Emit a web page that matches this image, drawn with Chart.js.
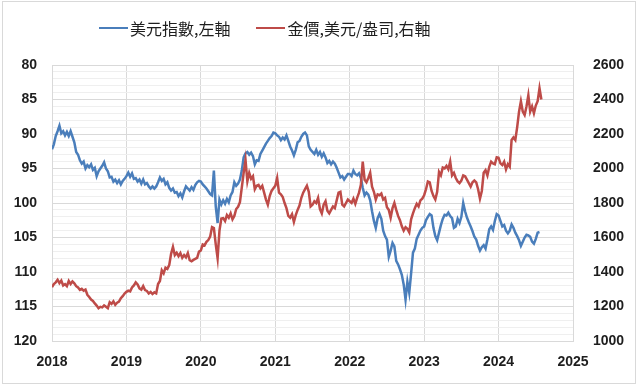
<!DOCTYPE html>
<html>
<head>
<meta charset="utf-8">
<script src="https://cdn.jsdelivr.net/npm/chart.js@4.4.1/dist/chart.umd.min.js"></script>
<style>
  html, body { margin: 0; padding: 0; background: #fff; }
  #wrap { position: relative; width: 640px; height: 386px; overflow: hidden; }
  #myChart { display: block; }
  #frame { position: absolute; left: 2px; top: 1px; width: 632px; height: 381px; border: 1px solid #d9d9d9; pointer-events: none; }
  #legend { position: absolute; left: 99px; top: 18px; height: 20px; display: flex; align-items: center;
            font-family: "Noto Sans CJK TC", sans-serif; font-size: 16px; color: #1e1e1e; white-space: nowrap; }
  .item { display: flex; align-items: center; margin-right: 26px; }
  .swatch { width: 29px; height: 2px; margin-right: 2px; }
</style>
</head>
<body>
<div id="wrap">
  <canvas id="myChart" width="640" height="386"></canvas>
  <div id="legend"></div>
  <div id="frame"></div>
</div>
<script>
// ~40 samples a year (every 9 days or so)
const samplesPerYear = 40
const firstYear = 2018
const yearTicks = [2018, 2019, 2020, 2021, 2022, 2023, 2024, 2025]

const dxyLabel = '美元指數,左軸'
const goldLabel = '金價,美元/盎司,右軸'

// US dollar index (left axis, reversed)
const dxy2018 = [92.2,91.5,90.3,89.6,88.8,89.9,89.6,90.2,89.7,90.3, 89.6,90.4,91.2,92.6,93.0,93.8,94.3,94.0,95.0,94.5,
                 94.8,94.4,95.2,94.9,96.1,95.4,95.0,94.6,94.1,95.0, 95.4,96.3,96.2,96.9,96.6,97.1,96.7,97.3,96.8,96.5]
const dxy2019 = [96.1,95.6,96.2,95.7,96.5,96.4,96.9,96.6,97.2,96.6, 97.3,97.1,97.6,97.9,97.6,97.9,97.6,97.0,96.3,96.8,
                 96.5,97.3,97.0,97.8,98.2,97.9,98.5,98.4,99.0,98.6, 99.2,98.3,97.6,97.9,98.2,97.7,98.1,97.4,97.0,96.8]
const dxy2020 = [96.9,97.3,97.6,97.9,98.3,98.7,98.9,95.3,100.5,102.9, 99.5,100.2,99.6,100.1,99.4,99.9,98.9,98.4,97.0,97.5,
                 97.2,96.6,95.3,93.4,92.8,92.6,93.0,92.7,93.2,94.4, 93.8,93.9,92.9,92.4,91.9,91.4,91.0,90.6,90.3,89.8]
const dxy2021 = [89.9,90.2,90.4,90.9,90.5,90.8,90.2,91.0,91.8,92.4, 93.1,92.3,91.2,91.0,90.4,90.0,89.8,90.2,91.8,92.3,
                 92.6,92.9,92.3,93.0,92.6,93.3,92.8,93.4,94.2,93.9, 94.4,94.0,94.3,94.9,95.6,96.3,96.1,96.6,96.2,95.8]
const dxy2022 = [95.8,96.1,95.3,95.8,96.0,95.7,96.4,97.8,98.9,98.5, 98.8,99.6,101.2,102.6,103.6,102.2,101.6,102.3,104.0,104.8,
                 105.3,107.8,106.9,105.8,106.3,108.4,108.9,109.6,110.4,111.8, 114.0,111.4,113.0,110.2,107.2,106.6,105.2,104.6,104.0,103.6]
const dxy2023 = [103.4,102.5,102.0,101.6,101.8,103.6,104.8,105.4,104.3,103.2, 102.3,101.7,101.8,101.4,101.9,102.2,103.6,103.4,102.3,102.9,
                 102.0,100.0,101.2,102.1,102.8,103.4,104.1,104.9,105.3,106.2, 106.9,106.4,106.1,106.6,105.3,103.8,103.4,103.9,102.6,101.6]
const dxy2024 = [101.8,102.6,103.4,103.2,104.0,104.4,104.0,103.1,103.6,104.3, 104.8,105.4,106.2,105.6,105.0,104.6,104.7,104.9,105.6,105.9,
                 105.2,104.3,104.2]

// gold, USD per ounce (right axis)
const gold2018 = [1312,1330,1340,1355,1335,1350,1322,1330,1318,1348, 1330,1345,1335,1318,1310,1296,1302,1292,1298,1268,
                  1255,1240,1232,1218,1205,1190,1198,1195,1206,1198, 1190,1225,1215,1230,1210,1222,1228,1248,1260,1275]
const gold2019 = [1285,1292,1288,1310,1322,1340,1328,1305,1298,1318, 1295,1290,1276,1284,1272,1282,1276,1330,1348,1410,
                  1392,1425,1418,1440,1505,1545,1498,1512,1492,1510, 1482,1498,1485,1510,1468,1462,1470,1476,1482,1518]
const gold2020 = [1525,1560,1555,1575,1585,1605,1660,1655,1560,1480, 1640,1710,1712,1695,1730,1715,1740,1705,1725,1765,
                  1778,1805,1890,1975,2050,1925,1975,1940,1955,1880, 1900,1905,1885,1900,1860,1820,1790,1840,1870,1885]
const gold2021 = [1900,1945,1860,1850,1835,1800,1770,1725,1715,1735, 1690,1730,1760,1785,1830,1860,1880,1900,1865,1780,
                  1790,1810,1800,1830,1765,1740,1790,1810,1755,1740, 1760,1780,1770,1815,1860,1865,1790,1780,1800,1820]
const gold2022 = [1810,1800,1825,1795,1830,1860,1905,2040,1935,1920, 1945,1975,1895,1865,1820,1850,1845,1855,1820,1830,
                  1775,1760,1715,1770,1800,1760,1725,1700,1665,1640, 1660,1650,1630,1705,1740,1770,1795,1780,1815,1825]
const gold2023 = [1845,1880,1925,1920,1870,1840,1820,1865,1980,1960, 2005,2000,2015,1995,2040,1960,1975,1945,1925,1915,
                  1930,1960,1955,1935,1915,1895,1920,1930,1920,1880, 1825,1870,1975,1990,1960,2010,2040,2030,2025,2065]
const gold2024 = [2062,2030,2020,2040,1995,2025,2010,2165,2180,2165, 2240,2330,2390,2330,2310,2360,2425,2330,2360,2320,
                  2365,2390,2465,2400]

const dxyByYear = [dxy2018, dxy2019, dxy2020, dxy2021, dxy2022, dxy2023, dxy2024]
const goldByYear = [gold2018, gold2019, gold2020, gold2021, gold2022, gold2023, gold2024]

const blue = '#4a7ebb'
const red = '#be4b48'
const gridColor = '#d9d9d9'
const minorGrid = '#efefef'
const tickFont = { family: 'Liberation Sans', size: 14, weight: 'bold' }
const tickColor = '#1e1e1e'

function toPoints(byYear) {
    const pts = []
    byYear.forEach((vals, k) => {
        vals.forEach((v, i) => pts.push({ x: firstYear + k + i / samplesPerYear, y: v }))
    })
    return pts
}

const ctx = document.getElementById('myChart')
const myChart = new Chart(ctx, {
    type: 'line',
    data: {
        datasets: [
            { label: dxyLabel, data: toPoints(dxyByYear), yAxisID: 'yL', borderColor: blue, backgroundColor: blue,
              borderWidth: 2.5, pointRadius: 0, order: 1 },
            { label: goldLabel, data: toPoints(goldByYear), yAxisID: 'yR', borderColor: red, backgroundColor: red,
              borderWidth: 2.5, pointRadius: 0, order: 0 }
        ]
    },
    options: {
        responsive: false,
        animation: false,
        devicePixelRatio: 1,
        events: [],
        layout: { padding: { top: 65, left: 0, right: 0, bottom: 0 } },
        plugins: { legend: { display: false }, tooltip: { enabled: false } },
        scales: {
            x: {
                type: 'linear', min: 2018, max: 2025,
                afterBuildTicks: s => { s.ticks = yearTicks.map(v => ({ value: v })) },
                afterFit: s => { s.height = 45 },
                ticks: { callback: v => String(v), padding: 13, font: tickFont, color: tickColor, maxRotation: 0 },
                grid: { color: gridColor, drawTicks: false },
                border: { color: gridColor }
            },
            yL: {
                position: 'left', reverse: true, min: 80, max: 120,
                afterFit: s => { s.width = 52 },
                ticks: { stepSize: 1, autoSkip: false, callback: v => (v % 5 === 0 ? String(v) : ''),
                         padding: 15, font: tickFont, color: tickColor },
                grid: { color: c => (c.tick && c.tick.value % 5 === 0 ? gridColor : minorGrid), drawTicks: false },
                border: { color: gridColor }
            },
            yR: {
                position: 'right', min: 1000, max: 2600,
                afterFit: s => { s.width = 67 },
                ticks: { stepSize: 200, callback: v => String(v), padding: 20, font: tickFont, color: tickColor },
                grid: { drawOnChartArea: false, drawTicks: false },
                border: { display: false }
            }
        }
    }
})

// legend as html so the line/text spacing matches
const legendEl = document.getElementById('legend')
myChart.data.datasets.forEach(ds => {
    const item = document.createElement('div')
    item.className = 'item'
    const sw = document.createElement('span')
    sw.className = 'swatch'
    sw.style.background = ds.borderColor
    const txt = document.createElement('span')
    txt.textContent = ds.label
    item.appendChild(sw)
    item.appendChild(txt)
    legendEl.appendChild(item)
})
</script>
</body>
</html>
